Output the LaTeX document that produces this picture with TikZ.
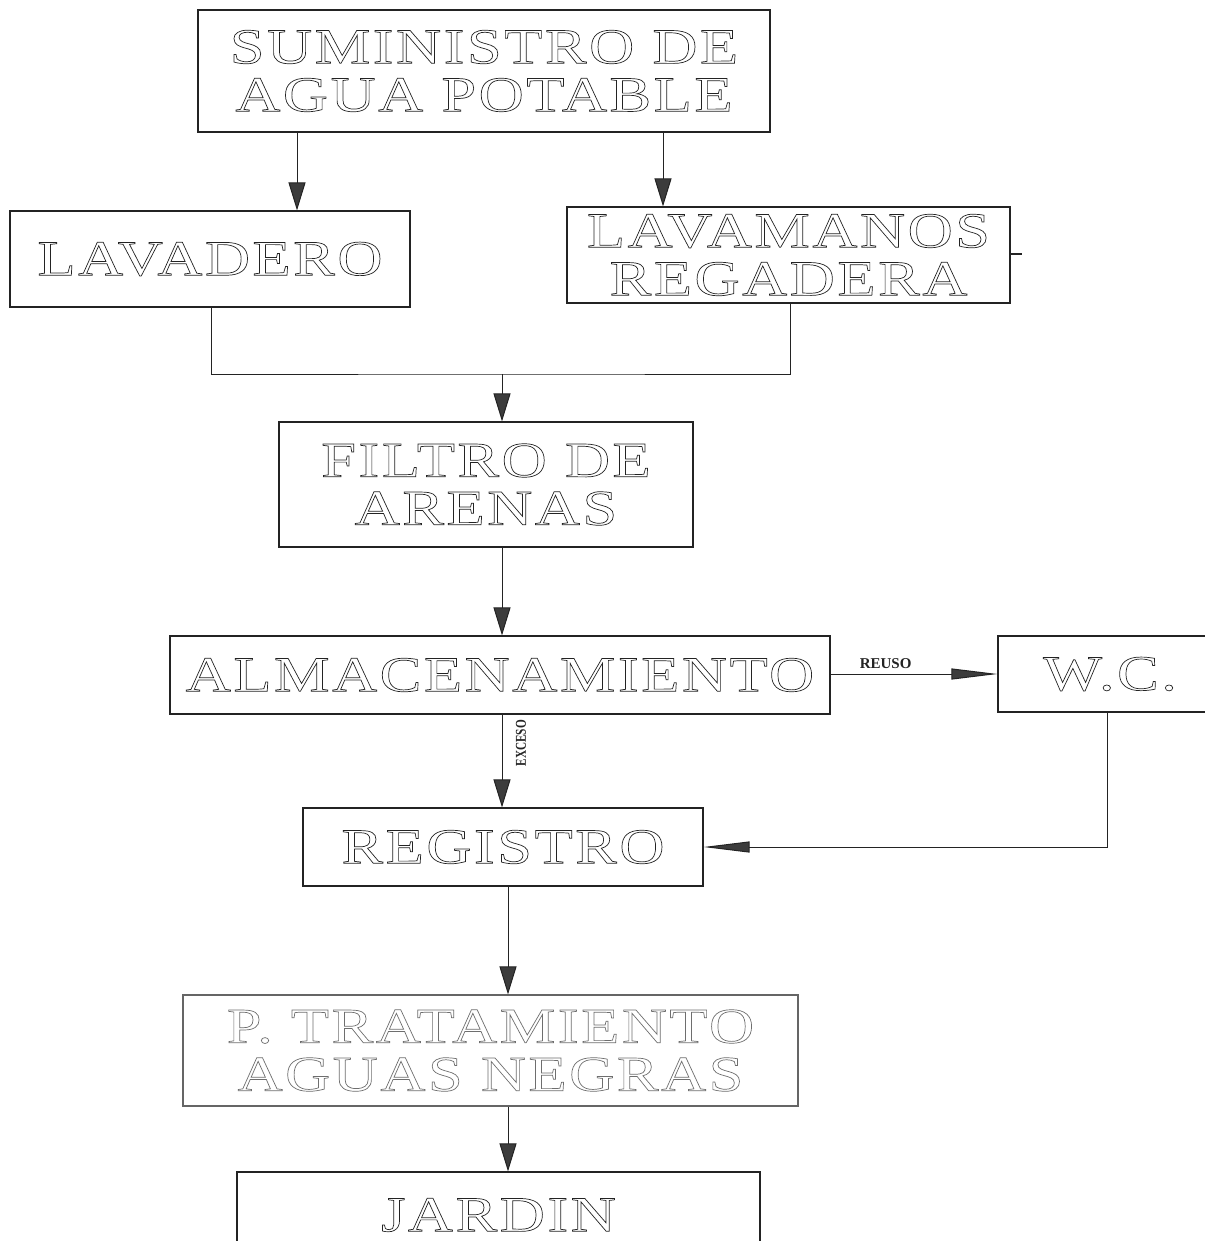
\documentclass[tikz,border=0pt]{standalone}
\usepackage{fontspec}
\setmainfont{Liberation Serif}
\newfontfamily\engfont[FakeStretch=1.25,LetterSpace=5]{Liberation Serif}
\newfontfamily\lblfont[FakeStretch=0.75]{Liberation Serif}
\usetikzlibrary{arrows.meta}
\definecolor{ink}{RGB}{35,35,35}
\definecolor{tipc}{RGB}{60,60,60}
\definecolor{pale}{RGB}{110,110,110}
\newcommand\hollowtxt[1]{\special{pdf:literal direct q 1 Tr 0.7 w}#1\special{pdf:literal direct Q}}
\tikzset{
  box/.style={draw=ink, line width=1.1pt, inner sep=0pt, align=center,
    font=\engfont\fontsize{50}{48}\selectfont, text=ink},
  ln/.style={draw=ink, line width=1pt},
  arr/.style={ln, -{Triangle[length=28pt,width=17pt,fill=tipc]}},
  arrlong/.style={ln, -{Triangle[length=46pt,width=11pt,fill=tipc]}},
  tag/.style={font=\bfseries\fontsize{15}{15}\selectfont, text=ink, inner sep=1pt}
}
\begin{document}
\begin{tikzpicture}[x=1pt,y=-1pt]
\useasboundingbox (0,0) rectangle (1204,1241);
\fill[white] (0,0) rectangle (1204,1241);
% nodes
\node[box, minimum width=572pt, minimum height=122pt] (sum) at (484,71) {\hollowtxt{SUMINISTRO DE\\AGUA POTABLE}};
\node[box, minimum width=400pt, minimum height=96pt] (lav) at (210,259) {\hollowtxt{LAVADERO}};
\node[box, minimum width=443pt, minimum height=96pt] (lvm) at (788.5,255) {\hollowtxt{LAVAMANOS\\REGADERA}};
\node[box, minimum width=414pt, minimum height=125pt] (fil) at (486,484.5) {\hollowtxt{FILTRO DE\\ARENAS}};
\node[box, minimum width=660pt, minimum height=78pt] (alm) at (500,675) {\hollowtxt{ALMACENAMIENTO}};
\node[box, minimum width=224pt, minimum height=76pt] (wc) at (1110,674) {\hollowtxt{W.C.}};
\node[box, minimum width=400pt, minimum height=78pt] (reg) at (503,847) {\hollowtxt{REGISTRO}};
\node[box, text=pale, draw=ink!70, minimum width=615pt, minimum height=111pt] (ptr) at (490.5,1050.5) {\hollowtxt{P. TRATAMIENTO\\AGUAS NEGRAS}};
\node[box, minimum width=523pt, minimum height=86pt] (jar) at (498.5,1215) {\hollowtxt{JARDIN}};
% helper coordinates
\coordinate (c1) at (297,0);
\coordinate (c2) at (663,0);
\coordinate (c3) at (211,0);
\coordinate (c4) at (790,0);
\coordinate (m) at (502,374);
\coordinate (c5) at (1107,0);
\coordinate (c6) at (508,0);
\coordinate (stub) at (1022,254);
% connectors
\draw[arr] (sum.south -| c1) -- (lav.north -| c1);
\draw[arr] (sum.south -| c2) -- (lvm.north -| c2);
\draw[ln] (lav.south -| c3) |- (m) -| (lvm.south -| c4);
\draw[ln] (lvm.east |- stub) -- (stub);
\draw[arr] (m) -- (fil.north -| m);
\draw[arr] (fil.south -| m) -- (alm.north -| m);
\draw[arrlong] (alm.east |- wc.west) -- node[tag, pos=0.33, above=4pt] {REUSO} (wc.west);
\draw[arr] (alm.south -| m) -- node[tag, font=\lblfont\bfseries\fontsize{15}{15}\selectfont, pos=0.31, xshift=19pt, rotate=90] {EXCESO} (reg.north -| m);
\draw[arrlong] (wc.south -| c5) |- (reg.east);
\draw[arr] (reg.south -| c6) -- (ptr.north -| c6);
\draw[arr] (ptr.south -| c6) -- (jar.north -| c6);
\end{tikzpicture}
\end{document}
